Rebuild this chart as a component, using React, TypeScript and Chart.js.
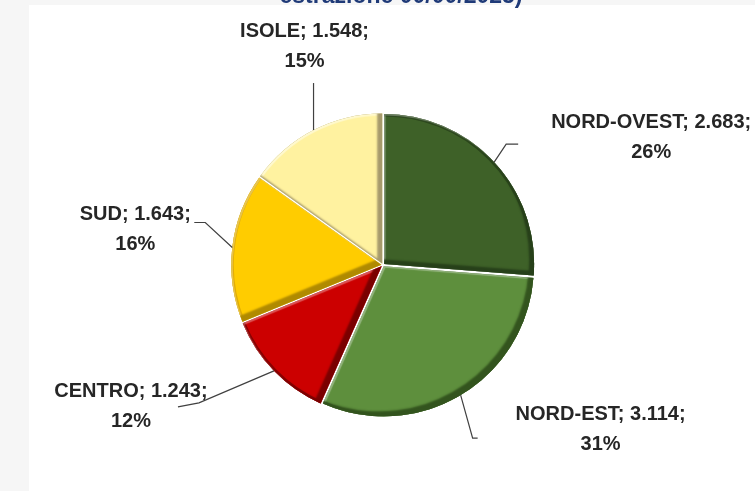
import { useEffect, useRef } from "react";
import { Chart, registerables } from "chart.js";

Chart.register(...registerables);

// ---- data ----
const categories = ["NORD-OVEST", "NORD-EST", "CENTRO", "SUD", "ISOLE"];
const values = [2683, 3114, 1243, 1643, 1548];
const percentages = [26, 31, 12, 16, 15];
const titleText = "estrazione 00/00/2025)";

// ---- styles ----
const fillColors = ["#3e6128", "#5e8f3d", "#cc0000", "#ffcc00", "#fff2a0"];
const rimColors = ["#27401a", "#33541e", "#7a0000", "#b08a00", "#a69a6c"];
const arcRimColors = ["#2b461c", "#36561f", "#8a0000", "#e0ac00", "#fff6b8"];
const labelFont = "bold 20px 'Liberation Sans', Arial, sans-serif";
const textColor = "#262626";

// leader-line & label placement relative to the slice's outer mid point
const labelLayout = [
  { elbow: [12, -18], end: [24, -18], text: [157, -25] },
  { elbow: [12, 43], end: [17, 43], text: [140, 34] },
  { elbow: [-75, 32], end: [-96, 36], text: [-143, 36] },
  { elbow: [-27, -25], end: [-38, -25], text: [-97, -18] },
  { elbow: [0, -47], end: [0, -47], text: [-9, -84] },
];

const fmt = (n: number) => String(n).replace(/\B(?=(\d{3})+(?!\d))/g, ".");

function sliceGeom(arc: any) {
  const p = arc.getProps(["x", "y", "startAngle", "endAngle", "outerRadius"], true);
  const off = (arc.options.offset || 0) / 4;
  const circ = p.endAngle - p.startAngle;
  const half = (p.startAngle + p.endAngle) / 2;
  const fix = 1 - Math.sin(Math.min(Math.PI, circ));
  const t = off + off * fix;
  return {
    cx: p.x + Math.cos(half) * t,
    cy: p.y + Math.sin(half) * t,
    R: p.outerRadius,
    s: p.startAngle,
    e: p.endAngle,
    half,
  };
}

const bevelPlugin = {
  id: "bevel",
  afterDatasetsDraw(chart: any) {
    const ctx = chart.ctx as CanvasRenderingContext2D;
    const meta = chart.getDatasetMeta(0);
    meta.data.forEach((arc: any, i: number) => {
      const g = sliceGeom(arc);
      const path = () => {
        ctx.moveTo(g.cx, g.cy);
        ctx.arc(g.cx, g.cy, g.R, g.s, g.e);
        ctx.closePath();
      };
      const outer = () => {
        ctx.beginPath();
        ctx.rect(g.cx - g.R * 3, g.cy - g.R * 3, g.R * 6, g.R * 6);
        path();
      };
      ctx.save();
      ctx.beginPath();
      path();
      ctx.clip();
      // rim along the outer arc
      ctx.beginPath();
      ctx.arc(g.cx, g.cy, g.R, g.s, g.e);
      ctx.strokeStyle = arcRimColors[i];
      ctx.lineWidth = 5;
      ctx.stroke();
      // light highlight on top-left edges
      outer();
      ctx.fillStyle = "rgba(255,255,255,0.6)";
      ctx.shadowColor = "rgba(255,255,255,0.55)";
      ctx.shadowBlur = 1;
      ctx.shadowOffsetX = 1.5;
      ctx.shadowOffsetY = 1.5;
      ctx.fill("evenodd");
      // dark bevel on bottom-right edges
      outer();
      ctx.fillStyle = rimColors[i];
      ctx.shadowColor = rimColors[i];
      ctx.shadowBlur = 2;
      ctx.shadowOffsetX = -5;
      ctx.shadowOffsetY = -5;
      ctx.fill("evenodd");
      ctx.restore();
    });
  },
};

const labelPlugin = {
  id: "sliceLabels",
  afterDraw(chart: any) {
    const ctx = chart.ctx as CanvasRenderingContext2D;
    const meta = chart.getDatasetMeta(0);
    ctx.save();
    // clipped title (only its bottom is visible in the frame)
    ctx.font = "bold 23px 'Liberation Sans', Arial, sans-serif";
    ctx.fillStyle = "#1f3a78";
    ctx.textAlign = "center";
    ctx.textBaseline = "alphabetic";
    ctx.fillText(titleText, 401, 3);

    meta.data.forEach((arc: any, i: number) => {
      const g = sliceGeom(arc);
      const ax = g.cx + Math.cos(g.half) * g.R;
      const ay = g.cy + Math.sin(g.half) * g.R;
      const L = labelLayout[i];
      ctx.beginPath();
      ctx.moveTo(ax, ay);
      ctx.lineTo(ax + L.elbow[0], ay + L.elbow[1]);
      ctx.lineTo(ax + L.end[0], ay + L.end[1]);
      ctx.strokeStyle = "#404040";
      ctx.lineWidth = 1.2;
      ctx.stroke();
      const tx = ax + L.text[0];
      const ty = ay + L.text[1];
      ctx.font = labelFont;
      ctx.fillStyle = textColor;
      ctx.textAlign = "center";
      ctx.textBaseline = "middle";
      ctx.fillText(`${categories[i]}; ${fmt(values[i])};`, tx, ty - 15);
      ctx.fillText(`${percentages[i]}%`, tx, ty + 15);
    });
    ctx.restore();
  },
};

export default function App() {
  const ref = useRef<HTMLCanvasElement | null>(null);
  useEffect(() => {
    if (!ref.current) return;
    const chart = new Chart(ref.current, {
      type: "pie",
      data: {
        labels: categories,
        datasets: [
          {
            data: values,
            backgroundColor: fillColors,
            borderWidth: 0,
            offset: 6,
            radius: 150,
          } as any,
        ],
      },
      options: {
        animation: false,
        responsive: false,
        events: [],
        layout: { padding: { left: 11, top: 39, right: 0, bottom: 0 } },
        plugins: {
          legend: { display: false },
          tooltip: { enabled: false },
          title: { display: false },
        },
      } as any,
      plugins: [bevelPlugin, labelPlugin],
    });
    return () => chart.destroy();
  }, []);

  return (
    <div
      style={{
        position: "fixed",
        left: 0,
        top: 0,
        width: 755,
        height: 491,
        background: "#f6f6f6",
        overflow: "hidden",
      }}
    >
      <div
        style={{
          position: "absolute",
          left: 29,
          top: 5,
          right: 0,
          bottom: 0,
          background: "#ffffff",
        }}
      />
      <canvas
        ref={ref}
        width={755}
        height={491}
        style={{ position: "absolute", left: 0, top: 0, width: 755, height: 491 }}
      />
    </div>
  );
}
